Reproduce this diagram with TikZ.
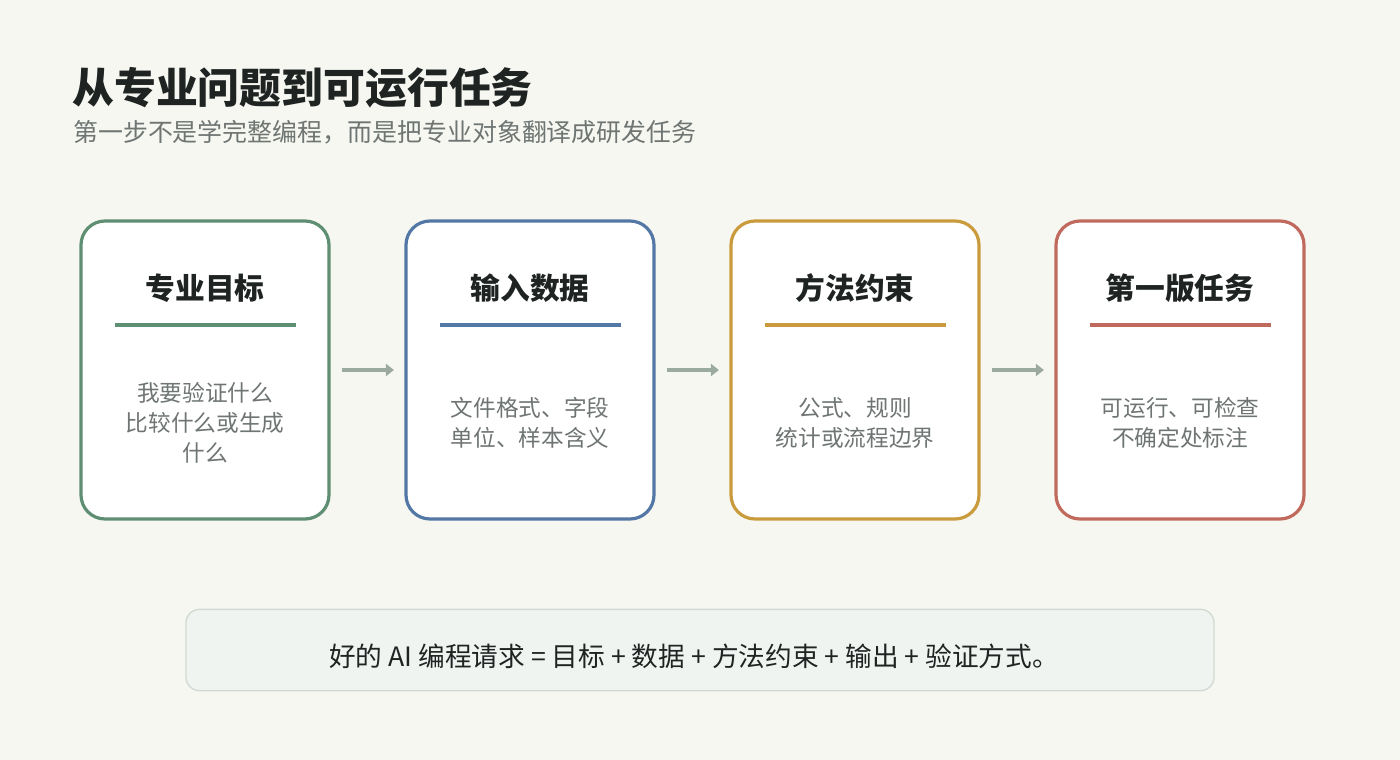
\documentclass[tikz,border=0pt]{standalone}
\usepackage{fontspec}
\setmainfont{Noto Sans CJK SC}
\usetikzlibrary{arrows.meta}
\definecolor{bg}{HTML}{F7F7F2}
\definecolor{cg}{HTML}{5F8F72}
\definecolor{cb}{HTML}{5478A6}
\definecolor{cy}{HTML}{C99B3C}
\definecolor{cr}{HTML}{C06A5E}
\definecolor{tx}{HTML}{1F2423}
\definecolor{gr}{HTML}{6E7572}
\definecolor{ar}{HTML}{9AAA9C}
\begin{document}
\begin{tikzpicture}[x=0.75pt,y=-0.75pt,
 card/.style={draw=#1,line width=2.4pt,fill=white,rounded corners=18pt,minimum width=186pt,minimum height=223.5pt,inner sep=0pt},
 ctitle/.style={font=\fontsize{22.3}{26}\selectfont\bfseries,text=tx},
 body/.style={font=\fontsize{17}{22.5}\selectfont,text=gr,align=center},
 uline/.style={draw=#1,line width=3pt},
 arr/.style={draw=ar,line width=3.5pt,-{Triangle[length=6pt,width=9pt]}}]
\fill[bg] (0,0) rectangle (1400,760);
\node[anchor=west,font=\fontsize{31.4}{36}\selectfont\bfseries,text=tx,inner sep=0pt] (title) at (72,88) {从专业问题到可运行任务};
\node[anchor=west,font=\fontsize{18.7}{22}\selectfont,text=gr,inner sep=0pt] (sub) at (73,132) {第一步不是学完整编程，而是把专业对象翻译成研发任务};
\foreach \i/\x/\c/\t/\b in {1/205/cg/专业目标/{我要验证什么\\比较什么或生成\\什么},2/530/cb/输入数据/{文件格式、字段\\单位、样本含义},3/855/cy/方法约束/{公式、规则\\统计或流程边界},4/1180/cr/第一版任务/{可运行、可检查\\不确定处标注}}{
 \node[card=\c] (b\i) at (\x,370) {};
 \node[ctitle] (t\i) at (\x,288) {\t};
 \draw[uline=\c] (\x-90.5,325) -- (\x+90.5,325);
 \node[body] (d\i) at (\x,423) {\b};
}
\draw[arr] ([xshift=8.5pt]b1.east) -- ++(39pt,0);
\draw[arr] ([xshift=8.5pt]b2.east) -- ++(39pt,0);
\draw[arr] ([xshift=8.5pt]b3.east) -- ++(39pt,0);
\node[draw=ar!45,fill=cg!10,line width=1pt,rounded corners=10pt,minimum width=771pt,minimum height=61pt] (foot) at (700,650) {};
\node[font=\fontsize{20}{24}\selectfont,text=tx] (ft) at (694,656) {好的 AI 编程请求 = 目标 + 数据 + 方法约束 + 输出 + 验证方式。};
\end{tikzpicture}
\end{document}
